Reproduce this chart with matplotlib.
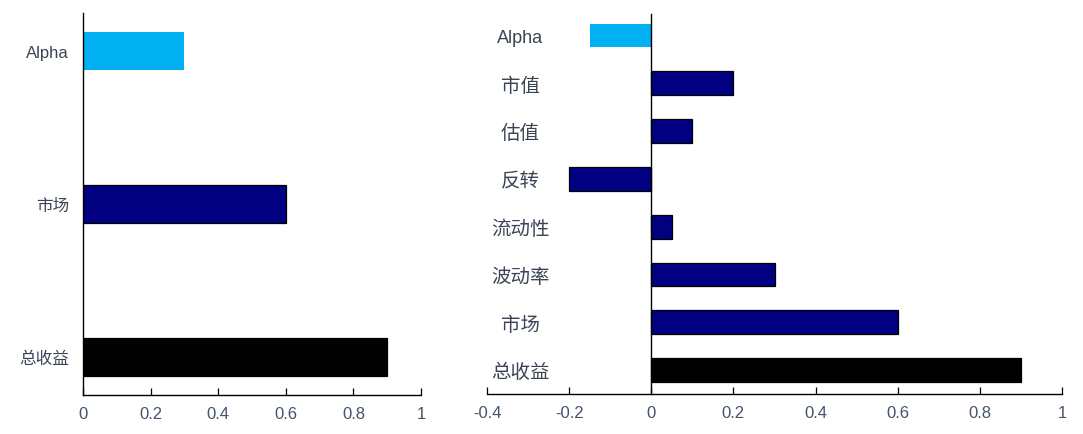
import matplotlib
matplotlib.use("Agg")
import matplotlib.pyplot as plt

plt.rcParams['font.family'] = ['Liberation Sans', 'Noto Sans CJK SC', 'DejaVu Sans']

left_cats = ['总收益', '市场', 'Alpha']
left_vals = [0.9, 0.6, 0.3]
left_colors = ['#000000', '#000080', '#00B0F0']

right_cats = ['总收益', '市场', '波动率', '流动性', '反转', '估值', '市值', 'Alpha']
right_vals = [0.9, 0.6, 0.3, 0.05, -0.2, 0.1, 0.2, -0.15]
right_colors = ['#000000'] + ['#000080'] * 6 + ['#00B0F0']

left_ticks = [0, 0.2, 0.4, 0.6, 0.8, 1]
left_ticklabels = ['0', '0.2', '0.4', '0.6', '0.8', '1']
right_ticks = [-0.4, -0.2, 0, 0.2, 0.4, 0.6, 0.8, 1]
right_ticklabels = ['-0.4', '-0.2', '0', '0.2', '0.4', '0.6', '0.8', '1']

W, H = 1083, 435
fig = plt.figure(figsize=(W / 100, H / 100), dpi=100)

tick_color = '#44546A'
label_color = '#3A4455'

def fr(x0, y0, x1, y1):
    return [x0 / W, 1 - y1 / H, (x1 - x0) / W, (y1 - y0) / H]

# Left panel
ax1 = fig.add_axes(fr(83, 14, 421, 396))
ypos = list(range(len(left_cats)))
ax1.barh(ypos, left_vals, height=0.25, color=left_colors,
         edgecolor=['#000000', '#000000', 'none'], linewidth=0.9)
ax1.set_xlim(0, 1)
ax1.set_ylim(-0.25, 2.25)
ax1.set_xticks(left_ticks)
ax1.set_xticklabels(left_ticklabels)
ax1.set_yticks(ypos)
ax1.set_yticklabels(left_cats)
for s in ['top', 'right']:
    ax1.spines[s].set_visible(False)
for s in ['left', 'bottom']:
    ax1.spines[s].set_linewidth(1.0)
    ax1.spines[s].set_color('#000000')
ax1.tick_params(axis='x', direction='in', length=5, width=0.9, pad=8,
                labelsize=12, labelcolor=tick_color)
ax1.tick_params(axis='y', length=0, pad=10, labelsize=12, labelcolor=label_color)

# Right panel
ax2 = fig.add_axes(fr(487, 15, 1062, 395))
ypos2 = list(range(len(right_cats)))
ax2.barh(ypos2, right_vals, height=0.5, color=right_colors,
         edgecolor=['#000000'] * 7 + ['none'], linewidth=0.9)
ax2.set_xlim(-0.4, 1)
ax2.set_ylim(-0.5, 7.45)
ax2.set_xticks(right_ticks)
ax2.set_xticklabels(right_ticklabels)
ax2.set_yticks(ypos2)
ax2.set_yticklabels(right_cats)
for s in ['top', 'right']:
    ax2.spines[s].set_visible(False)
ax2.spines['left'].set_position(('data', 0))
for s in ['left', 'bottom']:
    ax2.spines[s].set_linewidth(1.0)
    ax2.spines[s].set_color('#000000')
ax2.tick_params(axis='x', direction='in', length=5, width=0.9, pad=8,
                labelsize=12, labelcolor=tick_color)
ax2.tick_params(axis='y', length=0, pad=131 * 0.72, labelcolor=label_color)
for t, name in zip(ax2.get_yticklabels(), right_cats):
    t.set_ha('center')
    t.set_fontsize(13 if name == 'Alpha' else 14)

fig.savefig('out.png', dpi=100)
